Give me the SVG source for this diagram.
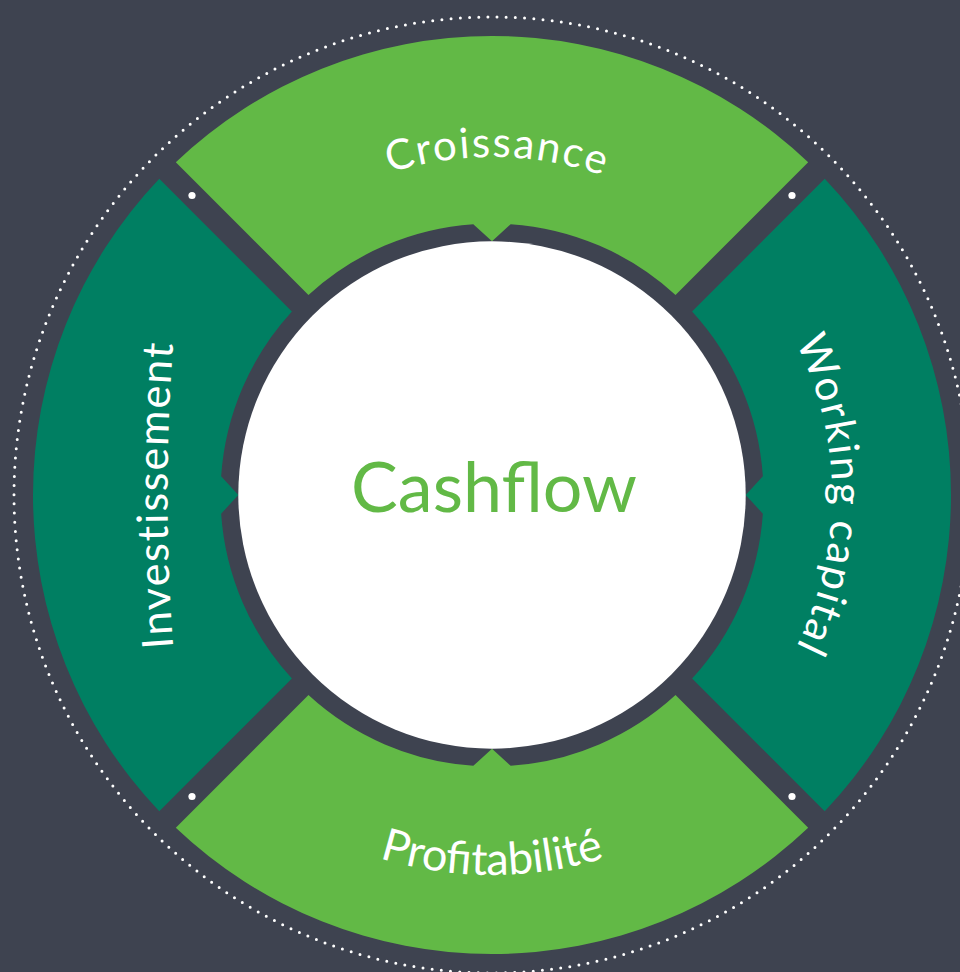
<svg xmlns="http://www.w3.org/2000/svg" xmlns:xlink="http://www.w3.org/1999/xlink" width="960" height="972" viewBox="0 0 960 972">
  <style>
    .lbl { font-family: Lato, "Open Sans", "Noto Sans", sans-serif; fill: #ffffff; }
    .light { fill: #62b946; }
    .teal { fill: #007f62; }
    .pin { fill: #ffffff; }
  </style>
  <defs>
    <!-- one quarter of the ring (top position), with its inward notch -->
    <path id="seg" d="M 175.81 162.27 A 459 459 0 0 1 808.19 162.27 L 675.53 294.93 A 271.5 271.5 0 0 0 510.7 224.14 L 492 241.3 L 473.3 224.14 A 271.5 271.5 0 0 0 308.47 294.93 Z"/>
    <!-- label baselines -->
    <path id="p-top" d="M 154 495 A 338 338 0 0 1 830 495"/>
    <path id="p-bottom" d="M 112 495 A 380 380 0 0 0 872 495"/>
    <path id="p-left" d="M 193.3 815 A 2000 2000 0 0 1 193.3 175"/>
    <path id="p-right" d="M 492 155 A 340 340 0 0 1 492 835"/>
  </defs>

  <rect width="960" height="972" fill="#3e4350"/>

  <!-- dotted outer ring -->
  <circle cx="492" cy="495" r="478" fill="none" stroke="#ffffff" stroke-width="3" stroke-linecap="round" stroke-dasharray="0 9.213"/>

  <g id="croissance">
    <use href="#seg" class="light"/>
    <text class="lbl" font-size="42" letter-spacing="2"><textPath href="#p-top" startOffset="536" text-anchor="middle">Croissance</textPath></text>
  </g>

  <g id="working-capital">
    <use href="#seg" class="teal" transform="rotate(90 492 495)"/>
    <text class="lbl" font-size="42" letter-spacing="2"><textPath href="#p-right" startOffset="50%" text-anchor="middle">Working capital</textPath></text>
  </g>

  <g id="profitabilite">
    <use href="#seg" class="light" transform="rotate(180 492 495)"/>
    <text class="lbl" font-size="45"><textPath href="#p-bottom" startOffset="50%" text-anchor="middle">Profitabilité</textPath></text>
  </g>

  <g id="investissement">
    <use href="#seg" class="teal" transform="rotate(270 492 495)"/>
    <text class="lbl" font-size="43" letter-spacing="1.8"><textPath href="#p-left" startOffset="50%" text-anchor="middle">Investissement</textPath></text>
  </g>

  <g id="cashflow">
    <circle cx="492" cy="495" r="253.7" fill="#ffffff"/>
    <text x="494" y="512" font-family="Lato, 'Open Sans', 'Noto Sans', sans-serif" font-size="70" fill="#62b946" text-anchor="middle">Cashflow</text>
  </g>

  <!-- markers in the diagonal gaps -->
  <g id="pins">
    <circle class="pin" cx="192" cy="195.5" r="3.6"/>
    <circle class="pin" cx="792" cy="195.5" r="3.6"/>
    <circle class="pin" cx="192" cy="796.5" r="3.6"/>
    <circle class="pin" cx="792" cy="796.5" r="3.6"/>
  </g>
</svg>
